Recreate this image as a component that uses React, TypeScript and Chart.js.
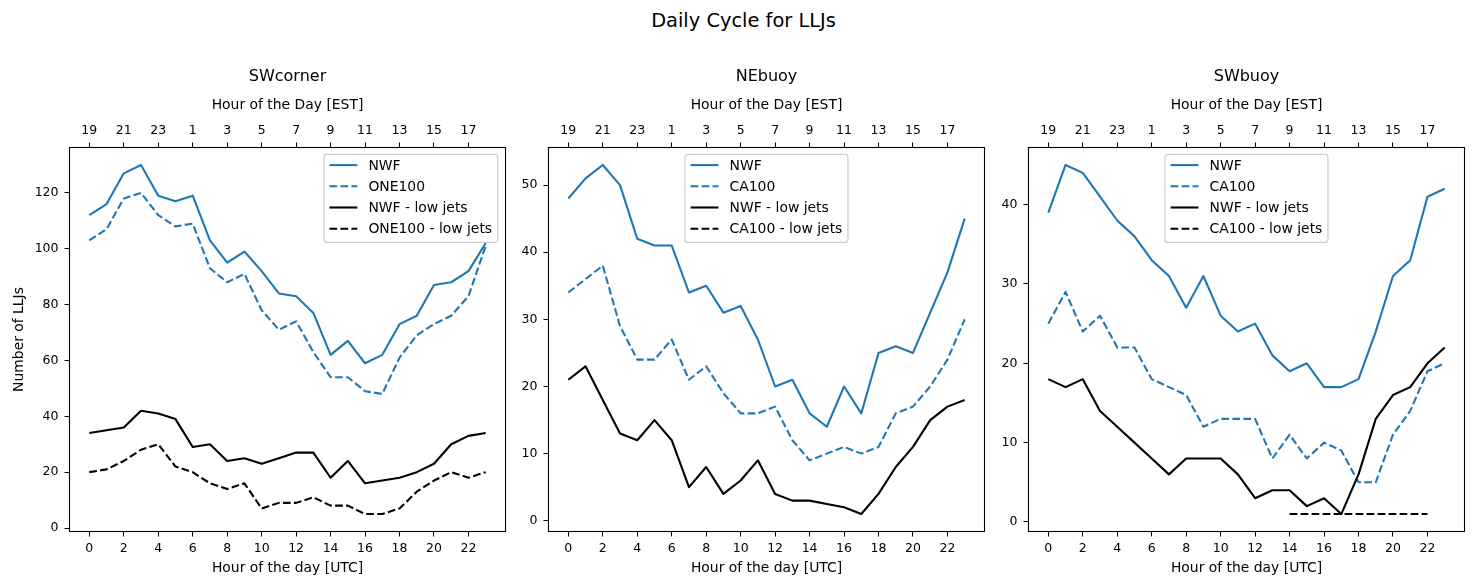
import React, { useEffect, useRef } from 'react';
import { Chart, registerables } from 'chart.js';

Chart.register(...registerables);

const FONT = "'DejaVu Sans', sans-serif";
Chart.defaults.font.family = FONT;
Chart.defaults.color = '#000';

// ---------------- data ----------------
const hoursUTC = [0, 1, 2, 3, 4, 5, 6, 7, 8, 9, 10, 11, 12, 13, 14, 15, 16, 17, 18, 19, 20, 21, 22, 23];
const utcTicks = [0, 2, 4, 6, 8, 10, 12, 14, 16, 18, 20, 22];
const estTickLabels = ['19', '21', '23', '1', '3', '5', '7', '9', '11', '13', '15', '17'];

const swcornerNWF = [112, 116, 127, 130, 119, 117, 119, 103, 95, 99, 92, 84, 83, 77, 62, 67, 59, 62, 73, 76, 87, 88, 92, 102];
const swcornerONE100 = [103, 107, 118, 120, 112, 108, 109, 93, 88, 91, 78, 71, 74, 63, 54, 54, 49, 48, 61, 69, 73, 76, 83, 101];
const swcornerNWFLow = [34, 35, 36, 42, 41, 39, 29, 30, 24, 25, 23, 25, 27, 27, 18, 24, 16, 17, 18, 20, 23, 30, 33, 34];
const swcornerONE100Low = [20, 21, 24, 28, 30, 22, 20, 16, 14, 16, 7, 9, 9, 11, 8, 8, 5, 5, 7, 13, 17, 20, 18, 20];

const nebuoyNWF = [48, 51, 53, 50, 42, 41, 41, 34, 35, 31, 32, 27, 20, 21, 16, 14, 20, 16, 25, 26, 25, 31, 37, 45];
const nebuoyCA100 = [34, 36, 38, 29, 24, 24, 27, 21, 23, 19, 16, 16, 17, 12, 9, 10, 11, 10, 11, 16, 17, 20, 24, 30];
const nebuoyNWFLow = [21, 23, 18, 13, 12, 15, 12, 5, 8, 4, 6, 9, 4, 3, 3, 2.5, 2, 1, 4, 8, 11, 15, 17, 18];
const nebuoyCA100Low: (number | null)[] = [null, null, null, null, null, null, null, null, null, null, null, null, null, null, null, null, null, null, null, null, null, null, null, null];

const swbuoyNWF = [39, 45, 44, 41, 38, 36, 33, 31, 27, 31, 26, 24, 25, 21, 19, 20, 17, 17, 18, 24, 31, 33, 41, 42];
const swbuoyCA100 = [25, 29, 24, 26, 22, 22, 18, 17, 16, 12, 13, 13, 13, 8, 11, 8, 10, 9, 5, 5, 11, 14, 19, 20];
const swbuoyNWFLow = [18, 17, 18, 14, 12, 10, 8, 6, 8, 8, 8, 6, 3, 4, 4, 2, 3, 1, 6, 13, 16, 17, 20, 22];
const swbuoyCA100Low: (number | null)[] = [null, null, null, null, null, null, null, null, null, null, null, null, null, null, 1, 1, 1, 1, 1, 1, 1, 1, 1, null];

const swcornerYTicks = [0, 20, 40, 60, 80, 100, 120];
const nebuoyYTicks = [0, 10, 20, 30, 40, 50];
const swbuoyYTicks = [0, 10, 20, 30, 40];

// ---------------- styles / layout ----------------
const BLUE = '#1f77b4';
const BLACK = '#000000';
const DASH = [7.7, 3.3];

type Series = { label: string; data: (number | null)[]; color: string; dash: number[] };
type Panel = {
  title: string;
  series: Series[];
  yTicks: number[];
  legendAlign: 'right' | 'center';
  canvasLeft: number;
  canvasWidth: number;
  chartLeft: number;
  chartRight: number;
  yTitle?: string;
};

const panels: Panel[] = [
  {
    title: 'SWcorner',
    series: [
      { label: 'NWF', data: swcornerNWF, color: BLUE, dash: [] },
      { label: 'ONE100', data: swcornerONE100, color: BLUE, dash: DASH },
      { label: 'NWF - low jets', data: swcornerNWFLow, color: BLACK, dash: [] },
      { label: 'ONE100 - low jets', data: swcornerONE100Low, color: BLACK, dash: DASH },
    ],
    yTicks: swcornerYTicks,
    legendAlign: 'right',
    canvasLeft: 0,
    canvasWidth: 520,
    chartLeft: 69.5,
    chartRight: 505.5,
    yTitle: 'Number of LLJs',
  },
  {
    title: 'NEbuoy',
    series: [
      { label: 'NWF', data: nebuoyNWF, color: BLUE, dash: [] },
      { label: 'CA100', data: nebuoyCA100, color: BLUE, dash: DASH },
      { label: 'NWF - low jets', data: nebuoyNWFLow, color: BLACK, dash: [] },
      { label: 'CA100 - low jets', data: nebuoyCA100Low, color: BLACK, dash: DASH },
    ],
    yTicks: nebuoyYTicks,
    legendAlign: 'center',
    canvasLeft: 520,
    canvasWidth: 480,
    chartLeft: 548.5,
    chartRight: 984.5,
  },
  {
    title: 'SWbuoy',
    series: [
      { label: 'NWF', data: swbuoyNWF, color: BLUE, dash: [] },
      { label: 'CA100', data: swbuoyCA100, color: BLUE, dash: DASH },
      { label: 'NWF - low jets', data: swbuoyNWFLow, color: BLACK, dash: [] },
      { label: 'CA100 - low jets', data: swbuoyCA100Low, color: BLACK, dash: DASH },
    ],
    yTicks: swbuoyYTicks,
    legendAlign: 'center',
    canvasLeft: 1000,
    canvasWidth: 479,
    chartLeft: 1028.5,
    chartRight: 1464.5,
  },
];

const FIG_H = 588;
const CHART_TOP = 147.5;
const CHART_BOTTOM = 531.5;
const TITLE_PAD_TOP = 67.6;
const TITLE_SIZE = 16;
const TICK_SIZE = 12.5;
const LABEL_SIZE = 13.9;
const TOP_LABEL_CENTER = 105.8;
const BOTTOM_LABEL_CENTER = 568.3;
const Y_LABEL_CENTER = 19.5;

// ---------------- plugins ----------------
const framePlugin = {
  id: 'mplFrame',
  afterDatasetsDraw(chart: any) {
    const { ctx, chartArea: a } = chart;
    ctx.save();
    ctx.strokeStyle = '#000';
    ctx.lineWidth = 1.1;
    ctx.setLineDash([]);
    ctx.strokeRect(a.left, a.top, a.right - a.left, a.bottom - a.top);
    ctx.restore();
  },
};

const legendPlugin = {
  id: 'mplLegend',
  afterDraw(chart: any, _args: any, opts: any) {
    const { ctx, chartArea: a } = chart;
    const items: Series[] = opts.items || [];
    ctx.save();
    ctx.font = `${LABEL_SIZE}px ${FONT}`;
    const maxW = Math.max(...items.map((it) => ctx.measureText(it.label).width));
    const w = 44.5 + maxW + 5.6;
    const h = 88;
    const top = a.top + 6.9;
    const left = opts.align === 'right' ? a.right - 7.8 - w : (a.left + a.right) / 2 - w / 2;
    const r = 3;
    ctx.beginPath();
    ctx.moveTo(left + r, top);
    ctx.lineTo(left + w - r, top);
    ctx.quadraticCurveTo(left + w, top, left + w, top + r);
    ctx.lineTo(left + w, top + h - r);
    ctx.quadraticCurveTo(left + w, top + h, left + w - r, top + h);
    ctx.lineTo(left + r, top + h);
    ctx.quadraticCurveTo(left, top + h, left, top + h - r);
    ctx.lineTo(left, top + r);
    ctx.quadraticCurveTo(left, top, left + r, top);
    ctx.closePath();
    ctx.fillStyle = 'rgba(255,255,255,0.8)';
    ctx.fill();
    ctx.strokeStyle = '#cccccc';
    ctx.lineWidth = 1.2;
    ctx.stroke();
    items.forEach((it, k) => {
      const cy = top + 10.7 + k * 21.2;
      ctx.beginPath();
      ctx.setLineDash(it.dash);
      ctx.strokeStyle = it.color;
      ctx.lineWidth = 2.1;
      ctx.lineCap = 'butt';
      ctx.moveTo(left + 5.5, cy);
      ctx.lineTo(left + 33.4, cy);
      ctx.stroke();
      ctx.setLineDash([]);
      ctx.fillStyle = '#000';
      ctx.textBaseline = 'middle';
      ctx.textAlign = 'left';
      ctx.fillText(it.label, left + 44.5, cy + 0.8);
    });
    ctx.restore();
  },
};

function axisRange(values: number[]) {
  const lo = Math.min(...values);
  const hi = Math.max(...values);
  const m = (hi - lo) * 0.05;
  return [lo - m, hi + m];
}

function buildConfig(p: Panel): any {
  const all: number[] = [];
  p.series.forEach((s) => s.data.forEach((v) => { if (v !== null) all.push(v); }));
  const [yMin, yMax] = axisRange(all);
  const [xMin, xMax] = axisRange(hoursUTC);
  const yWidth = p.chartLeft - p.canvasLeft;
  const padRight = p.canvasLeft + p.canvasWidth - p.chartRight;
  const titleLH = TITLE_SIZE * 1.2;
  const titleBox = TITLE_PAD_TOP + titleLH;
  const topAxisH = CHART_TOP - titleBox;
  const bottomAxisH = FIG_H - CHART_BOTTOM;
  const labelLH = LABEL_SIZE * 1.2;
  const tickFont = { family: FONT, size: TICK_SIZE };
  const labelFont = { family: FONT, size: LABEL_SIZE };
  const grid = { drawOnChartArea: false, drawTicks: true, tickLength: 5, color: '#000', lineWidth: 1 };
  const xTicksBuild = (s: any) => { s.ticks = utcTicks.map((v) => ({ value: v })); };

  return {
    type: 'line',
    data: {
      datasets: p.series.map((s, k) => ({
        label: s.label,
        data: hoursUTC.map((hr, j) => ({ x: hr, y: s.data[j] })),
        borderColor: s.color,
        backgroundColor: s.color,
        borderWidth: 2.1,
        borderDash: s.dash,
        borderJoinStyle: 'round',
        borderCapStyle: 'butt',
        pointRadius: 0,
        pointHoverRadius: 0,
        tension: 0,
        fill: false,
        spanGaps: false,
        order: p.series.length - k,
        xAxisID: 'x',
        yAxisID: 'y',
      })),
    },
    options: {
      animation: false,
      responsive: false,
      events: [],
      layout: { autoPadding: false, padding: { left: 0, right: padRight, top: 0, bottom: 0 } },
      plugins: {
        legend: { display: false },
        tooltip: { enabled: false },
        title: {
          display: true,
          text: p.title,
          fullSize: false,
          color: '#000',
          font: { family: FONT, size: TITLE_SIZE, weight: 'normal', lineHeight: 1.2 },
          padding: { top: TITLE_PAD_TOP, bottom: 0 },
        },
        mplLegend: { items: p.series, align: p.legendAlign },
      },
      scales: {
        x: {
          type: 'linear',
          axis: 'x',
          position: 'bottom',
          min: xMin,
          max: xMax,
          bounds: 'data',
          afterBuildTicks: xTicksBuild,
          afterFit: (s: any) => { s.height = bottomAxisH; },
          grid,
          border: { display: false },
          ticks: { autoSkip: false, maxRotation: 0, minRotation: 0, padding: 4.8, color: '#000', font: tickFont, callback: (v: any) => String(v) },
          title: {
            display: true,
            text: 'Hour of the day [UTC]',
            color: '#000',
            font: labelFont,
            padding: { top: 0, bottom: FIG_H - BOTTOM_LABEL_CENTER - labelLH / 2 },
          },
        },
        x2: {
          type: 'linear',
          axis: 'x',
          position: 'top',
          min: xMin,
          max: xMax,
          bounds: 'data',
          afterBuildTicks: xTicksBuild,
          afterFit: (s: any) => { s.height = topAxisH; },
          grid,
          border: { display: false },
          ticks: {
            autoSkip: false, maxRotation: 0, minRotation: 0, padding: 4.2, color: '#000', font: tickFont,
            callback: (_v: any, i: number) => estTickLabels[i],
          },
          title: {
            display: true,
            text: 'Hour of the Day [EST]',
            color: '#000',
            font: labelFont,
            padding: { top: TOP_LABEL_CENTER - titleBox - labelLH / 2, bottom: 0 },
          },
        },
        y: {
          type: 'linear',
          position: 'left',
          min: yMin,
          max: yMax,
          bounds: 'data',
          afterBuildTicks: (s: any) => { s.ticks = p.yTicks.map((v) => ({ value: v })); },
          afterFit: (s: any) => { s.width = yWidth; },
          grid,
          border: { display: false },
          ticks: { autoSkip: false, padding: 6, color: '#000', font: tickFont, callback: (v: any) => String(v) },
          title: p.yTitle
            ? { display: true, text: p.yTitle, color: '#000', font: labelFont, padding: { top: Y_LABEL_CENTER - labelLH / 2, bottom: 0 } }
            : { display: false },
        },
      },
    },
    plugins: [framePlugin, legendPlugin],
  };
}

export default function App() {
  const refs = useRef<(HTMLCanvasElement | null)[]>([]);
  useEffect(() => {
    const charts = panels.map((p, i) => new Chart(refs.current[i] as HTMLCanvasElement, buildConfig(p)));
    return () => charts.forEach((c) => c.destroy());
  }, []);
  return (
    <div style={{ position: 'absolute', left: 0, top: 0, width: 1479, height: FIG_H, background: '#fff', fontFamily: FONT }}>
      <div
        style={{
          position: 'absolute', left: 0, top: 11.1, width: 1487, textAlign: 'center',
          fontSize: 19.4, lineHeight: 1, color: '#000', fontFamily: FONT, whiteSpace: 'nowrap',
        }}
      >
        Daily Cycle for LLJs
      </div>
      {panels.map((p, i) => (
        <canvas
          key={p.title}
          ref={(el) => { refs.current[i] = el; }}
          width={p.canvasWidth}
          height={FIG_H}
          style={{ position: 'absolute', left: p.canvasLeft, top: 0, width: p.canvasWidth, height: FIG_H }}
        />
      ))}
    </div>
  );
}
